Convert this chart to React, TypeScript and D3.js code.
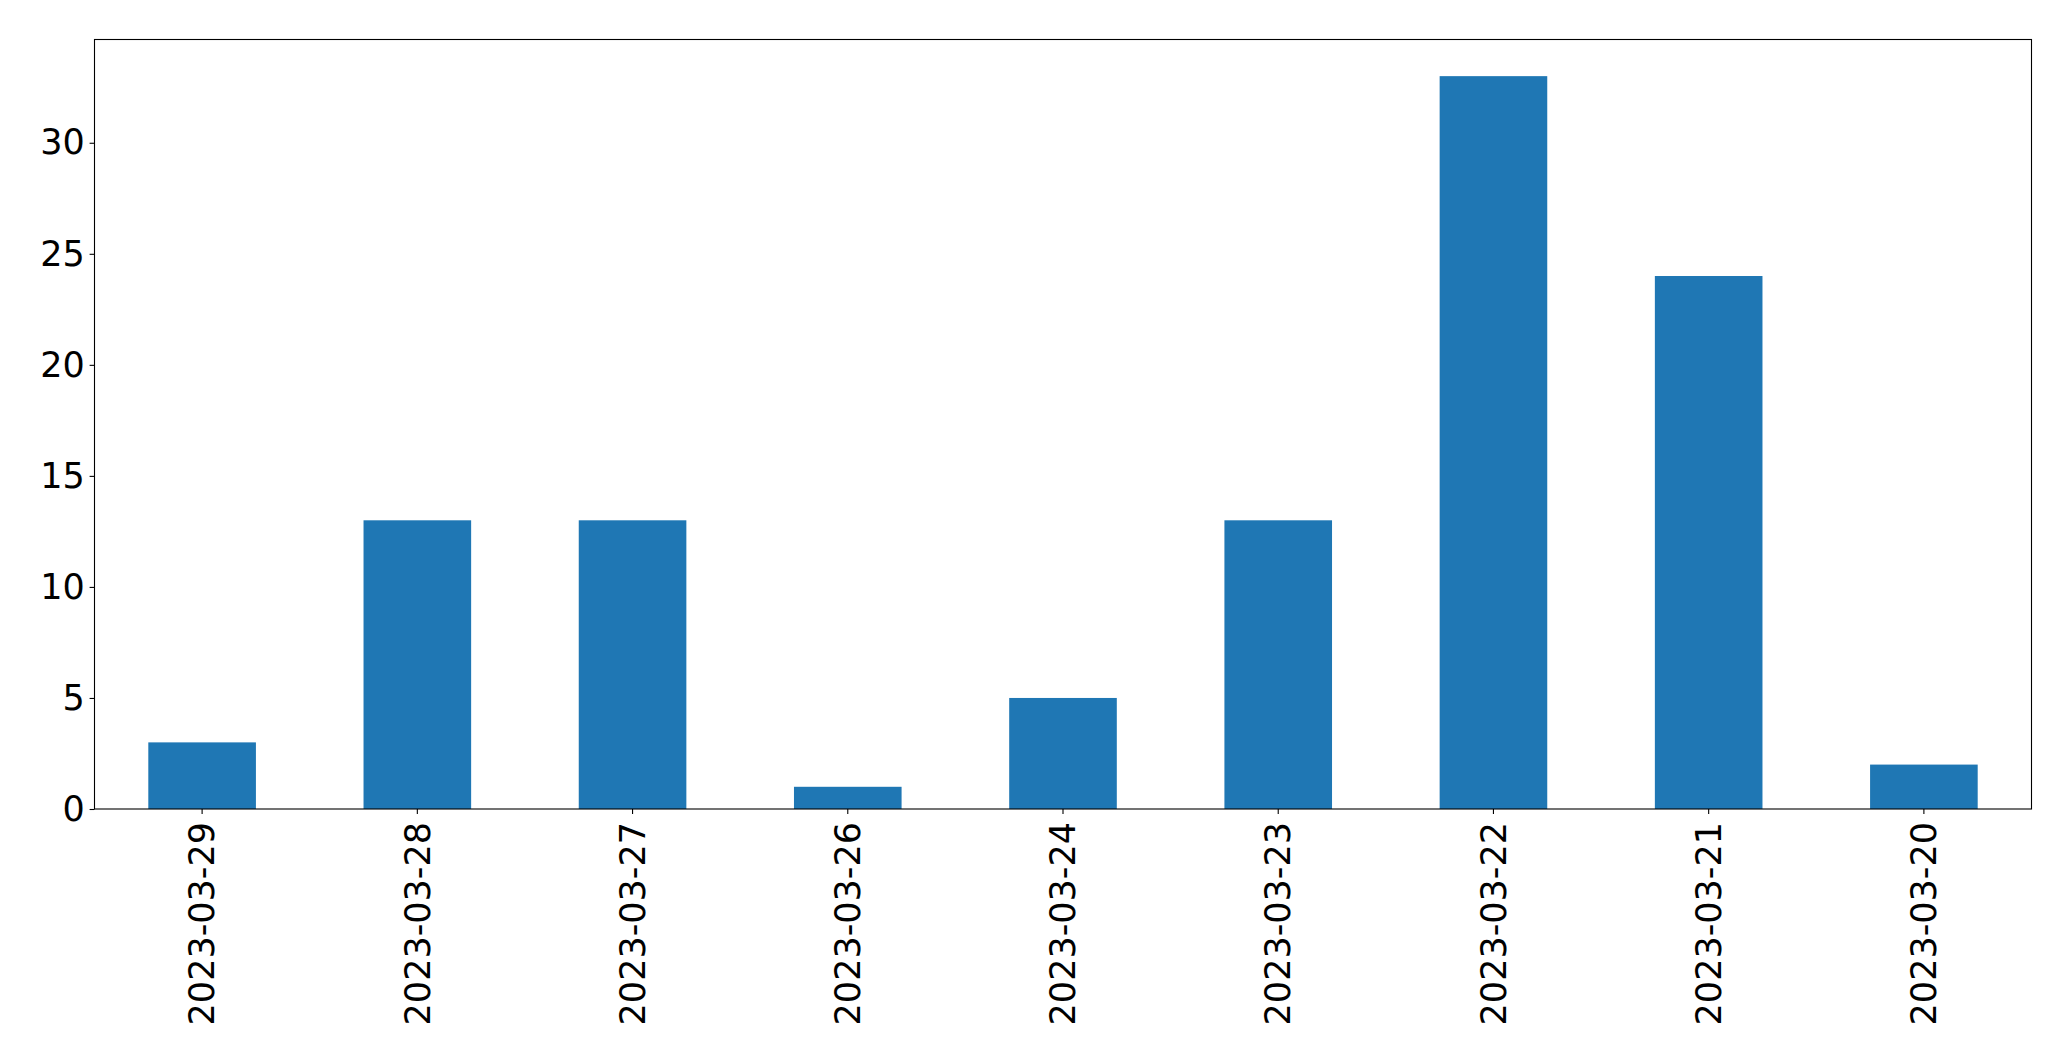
import { useEffect, useRef } from 'react'
import * as d3 from 'd3'

const dates = [
  '2023-03-29',
  '2023-03-28',
  '2023-03-27',
  '2023-03-26',
  '2023-03-24',
  '2023-03-23',
  '2023-03-22',
  '2023-03-21',
  '2023-03-20'
]
const counts = [3, 13, 13, 1, 5, 13, 33, 24, 2]
const yTicks = [0, 5, 10, 15, 20, 25, 30]

const WIDTH = 2071
const HEIGHT = 1061
const FONT = 'DejaVu Sans, sans-serif'

export default function App() {
  const svgRef = useRef<SVGSVGElement>(null)

  useEffect(() => {
    if (!svgRef.current) return
    const svg = d3.select(svgRef.current)
    svg.selectAll('*').remove()

    const margin = { top: 39.5, right: 39.5, bottom: 252, left: 94.5 }
    const innerW = WIDTH - margin.left - margin.right
    const innerH = HEIGHT - margin.top - margin.bottom

    // band per category, bars take half of it (pandas default width 0.5)
    const x = d3.scaleBand<string>()
      .domain(dates)
      .range([margin.left, margin.left + innerW])
      .paddingInner(0.5)
      .paddingOuter(0.25)

    const y = d3.scaleLinear()
      .domain([0, d3.max(counts)! * 1.05])
      .range([margin.top + innerH, margin.top])

    // bars
    svg.append('g')
      .selectAll('rect')
      .data(counts)
      .join('rect')
      .attr('x', (_, i) => x(dates[i])!)
      .attr('y', d => y(d))
      .attr('width', x.bandwidth())
      .attr('height', d => y(0) - y(d))
      .attr('fill', '#1f77b4')

    // y axis
    const yAxis = svg.append('g')
      .attr('transform', `translate(${margin.left},0)`)
      .call(d3.axisLeft(y).tickValues(yTicks).tickSize(4.9).tickPadding(4.9).tickFormat(d3.format('d')))
    yAxis.select('.domain').remove()
    yAxis.selectAll('line').attr('stroke', '#000').attr('stroke-width', 1.1)
    yAxis.selectAll('text')
      .style('font-family', FONT)
      .style('font-size', '35px')
      .attr('fill', '#000')

    // x axis
    const xAxis = svg.append('g')
      .attr('transform', `translate(0,${margin.top + innerH})`)
      .call(d3.axisBottom(x).tickSize(4.9).tickPadding(0))
    xAxis.select('.domain').remove()
    xAxis.selectAll('line').attr('stroke', '#000').attr('stroke-width', 1.1)
    xAxis.selectAll('text')
      .style('font-family', FONT)
      .style('font-size', '35px')
      .attr('fill', '#000')
      .attr('transform', 'rotate(-90)')
      .attr('x', -13)
      .attr('y', 0)
      .attr('dy', '0.35em')
      .attr('text-anchor', 'end')

    // frame
    svg.append('rect')
      .attr('x', margin.left)
      .attr('y', margin.top)
      .attr('width', innerW)
      .attr('height', innerH)
      .attr('fill', 'none')
      .attr('stroke', '#000')
      .attr('stroke-width', 1.1)
  }, [])

  return (
    <svg
      ref={svgRef}
      width={WIDTH}
      height={HEIGHT}
      style={{ position: 'absolute', top: 0, left: 0, background: '#fff' }}
    />
  )
}
